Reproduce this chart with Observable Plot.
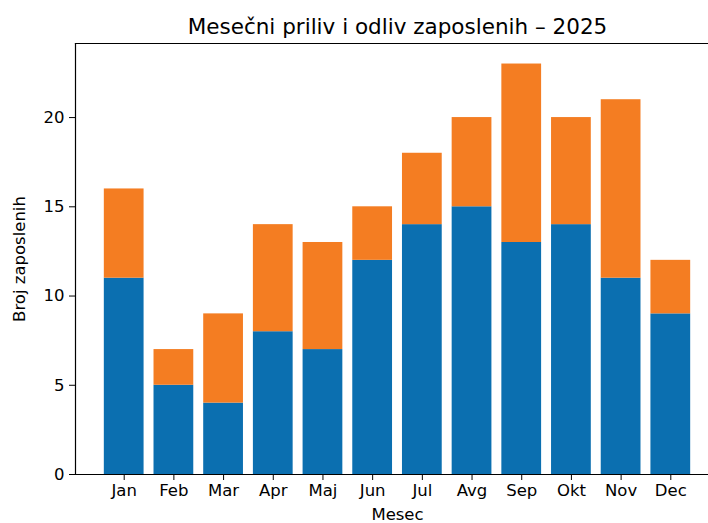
<!DOCTYPE html>
<html>
<head>
<meta charset="utf-8">
<script src="https://cdn.jsdelivr.net/npm/d3@7"></script>
<script src="https://cdn.jsdelivr.net/npm/@observablehq/plot@0.6"></script>
<style>
  html, body { margin: 0; padding: 0; background: #fff; }
  #wrap { width: 708px; height: 523px; overflow: hidden; }
  #wrap svg { max-width: none !important; }
</style>
</head>
<body>
<div id="wrap"></div>
<script>
const months = ["Jan","Feb","Mar","Apr","Maj","Jun","Jul","Avg","Sep","Okt","Nov","Dec"];
const priliv = [11,5,4,8,7,12,14,15,13,14,11,9];
const odliv  = [5,2,5,6,6,3,4,5,10,6,10,3];
const seriesNames = ["Priliv","Odliv"];
const seriesColors = ["#0b6fb0","#f47d22"];
const yTicks = [0,5,10,15,20];
const title = "Mesečni priliv i odliv zaposlenih – 2025";
const xLabel = "Mesec";
const yLabel = "Broj zaposlenih";

const rows = months.flatMap((m, i) => [
  {month: m, series: seriesNames[0], value: priliv[i]},
  {month: m, series: seriesNames[1], value: odliv[i]}
]);
const maxTotal = d3.max(months, (m, i) => priliv[i] + odliv[i]);

const chart = Plot.plot({
  width: 720,
  height: 523,
  marginLeft: 75,
  marginRight: 1,
  marginTop: 43,
  marginBottom: 49,
  style: {fontFamily: "DejaVu Sans", fontSize: "16px", color: "#000", background: "#fff", maxWidth: "none"},
  x: {domain: months, paddingInner: 0.2, paddingOuter: 0.58, round: false, label: null},
  y: {domain: [0, maxTotal * 1.05], label: null},
  color: {domain: seriesNames, range: seriesColors},
  marks: [
    Plot.barY(rows, {x: "month", y: "value", fill: "series", inset: 0}),
    Plot.frame({anchor: "left", stroke: "#000", strokeWidth: 1.2}),
    Plot.frame({anchor: "bottom", stroke: "#000", strokeWidth: 1.2}),
    Plot.frame({anchor: "top", stroke: "#000", strokeWidth: 1.2}),
    Plot.axisY({ticks: yTicks, tickSize: 6, tickPadding: 5, fontSize: 16.5, label: yLabel, labelAnchor: "center", labelArrow: false, labelOffset: 62}),
    Plot.axisX({tickSize: 6, tickPadding: 4, fontSize: 16.5, label: xLabel, labelAnchor: "center", labelArrow: false, labelOffset: 45}),
    Plot.text([title], {frameAnchor: "top", dy: -16, lineAnchor: "middle", fontSize: 21.5, fill: "#000"})
  ]
});
document.getElementById("wrap").appendChild(chart);
</script>
</body>
</html>
